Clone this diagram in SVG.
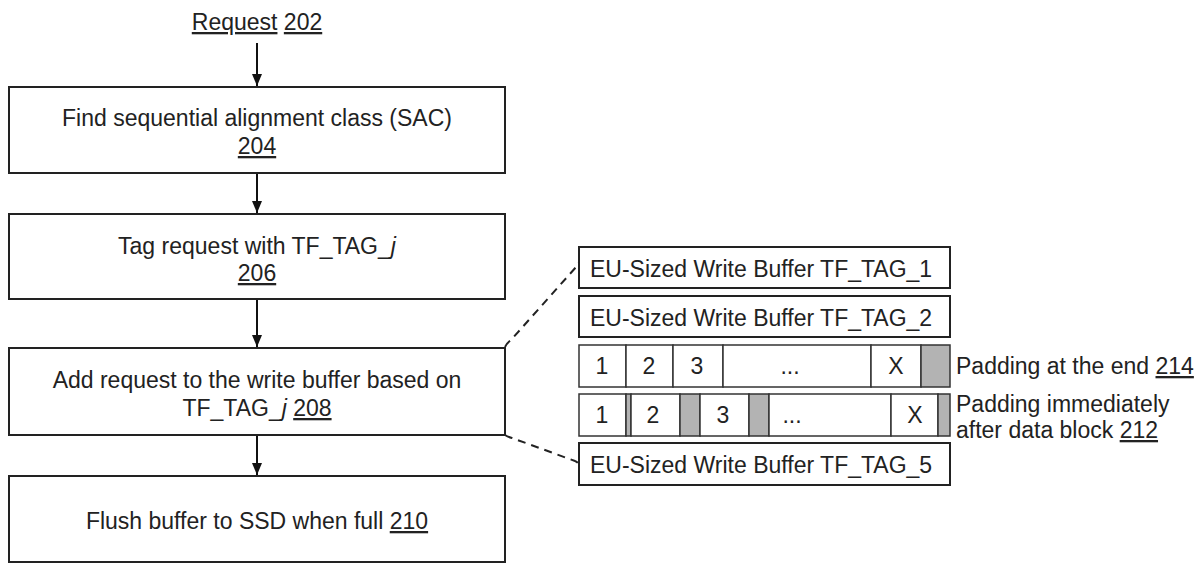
<svg xmlns="http://www.w3.org/2000/svg" width="1204" height="563" viewBox="0 0 1204 563">
  <style>
    text { font-family: "Liberation Sans", Arial, sans-serif; font-size: 23px; fill: #222; }
    .c { text-anchor: middle; }
    .u { text-decoration: underline; }
    .i { font-style: italic; }
    .box { fill: #fff; stroke: #222; stroke-width: 2; }
    .cell { fill: #fff; stroke: #333; stroke-width: 1.5; }
    .pad { fill: #b3b3b3; stroke: #333; stroke-width: 1.5; }
    .flow { stroke: #111; stroke-width: 2; fill: none; }
    .dash { stroke: #222; stroke-width: 2; fill: none; stroke-dasharray: 8 6; }
  </style>
  <defs>
    <marker id="arrow" viewBox="0 0 12 12" refX="12" refY="6" markerWidth="12" markerHeight="12" markerUnits="userSpaceOnUse" orient="auto">
      <path d="M0,1 L12,6 L0,11 Z" fill="#111"/>
    </marker>
  </defs>

  <rect width="1204" height="563" fill="#fff"/>

  <!-- flow connectors -->
  <g id="connectors">
    <line class="flow" x1="257" y1="43" x2="257" y2="86" marker-end="url(#arrow)"/>
    <line class="flow" x1="257" y1="173" x2="257" y2="213" marker-end="url(#arrow)"/>
    <line class="flow" x1="257" y1="299" x2="257" y2="347" marker-end="url(#arrow)"/>
    <line class="flow" x1="257" y1="435" x2="257" y2="475" marker-end="url(#arrow)"/>
    <path class="dash" d="M505,347 Q507,343 511,340 L577,266 Q578,264 579,262"/>
    <path class="dash" d="M505,435 Q508,437 512,438 L575,461 Q578,462 579,465"/>
  </g>

  <g id="request-202">
    <text class="c" x="257" y="30"><tspan class="u">Request</tspan> <tspan class="u">202</tspan></text>
  </g>

  <g id="step-204">
    <rect class="box" x="9" y="87" width="496" height="86"/>
    <text class="c" x="257" y="126">Find sequential alignment class (SAC)</text>
    <text class="c u" x="257" y="154">204</text>
  </g>

  <g id="step-206">
    <rect class="box" x="9" y="214" width="496" height="85"/>
    <text class="c" x="257" y="254">Tag request with TF_TAG_<tspan class="i">j</tspan></text>
    <text class="c u" x="257" y="281">206</text>
  </g>

  <g id="step-208">
    <rect class="box" x="9" y="348" width="496" height="87"/>
    <text class="c" x="257" y="388">Add request to the write buffer based on</text>
    <text class="c" x="257" y="416">TF_TAG_<tspan class="i">j</tspan> <tspan class="u">208</tspan></text>
  </g>

  <g id="step-210">
    <rect class="box" x="9" y="476" width="496" height="86"/>
    <text class="c" x="257" y="529">Flush buffer to SSD when full <tspan class="u">210</tspan></text>
  </g>

  <g id="buffer-tag-1">
    <rect class="box" x="579" y="247" width="371" height="41"/>
    <text x="590" y="277">EU-Sized Write Buffer TF_TAG_1</text>
  </g>

  <g id="buffer-tag-2">
    <rect class="box" x="579" y="296" width="371" height="41"/>
    <text x="590" y="326">EU-Sized Write Buffer TF_TAG_2</text>
  </g>

  <g id="buffer-padding-end">
    <rect class="cell" x="579" y="345" width="47" height="42"/>
    <rect class="cell" x="626" y="345" width="47" height="42"/>
    <rect class="cell" x="673" y="345" width="50" height="42"/>
    <rect class="cell" x="723" y="345" width="148" height="42"/>
    <rect class="cell" x="871" y="345" width="50" height="42"/>
    <rect class="pad" x="921" y="345" width="29" height="42"/>
    <text class="c" x="602" y="374">1</text>
    <text class="c" x="649" y="374">2</text>
    <text class="c" x="697" y="374">3</text>
    <text class="c" x="790" y="374">...</text>
    <text class="c" x="896" y="374">X</text>
  </g>

  <g id="buffer-padding-after-block">
    <rect class="cell" x="579" y="394" width="47" height="42"/>
    <rect class="pad" x="626" y="394" width="5" height="42"/>
    <rect class="cell" x="631" y="394" width="49" height="42"/>
    <rect class="pad" x="680" y="394" width="20" height="42"/>
    <rect class="cell" x="700" y="394" width="49" height="42"/>
    <rect class="pad" x="749" y="394" width="20" height="42"/>
    <rect class="cell" x="769" y="394" width="122" height="42"/>
    <rect class="cell" x="891" y="394" width="47" height="42"/>
    <rect class="pad" x="938" y="394" width="12" height="42"/>
    <text class="c" x="602" y="423">1</text>
    <text class="c" x="653" y="423">2</text>
    <text class="c" x="723" y="423">3</text>
    <text class="c" x="792" y="423">...</text>
    <text class="c" x="915" y="423">X</text>
  </g>

  <g id="buffer-tag-5">
    <rect class="box" x="579" y="443" width="371" height="42"/>
    <text x="590" y="473">EU-Sized Write Buffer TF_TAG_5</text>
  </g>

  <g id="label-214">
    <text x="956" y="374">Padding at the end <tspan class="u">214</tspan></text>
  </g>

  <g id="label-212">
    <text x="956" y="412">Padding immediately</text>
    <text x="956" y="438">after data block <tspan class="u">212</tspan></text>
  </g>
</svg>
